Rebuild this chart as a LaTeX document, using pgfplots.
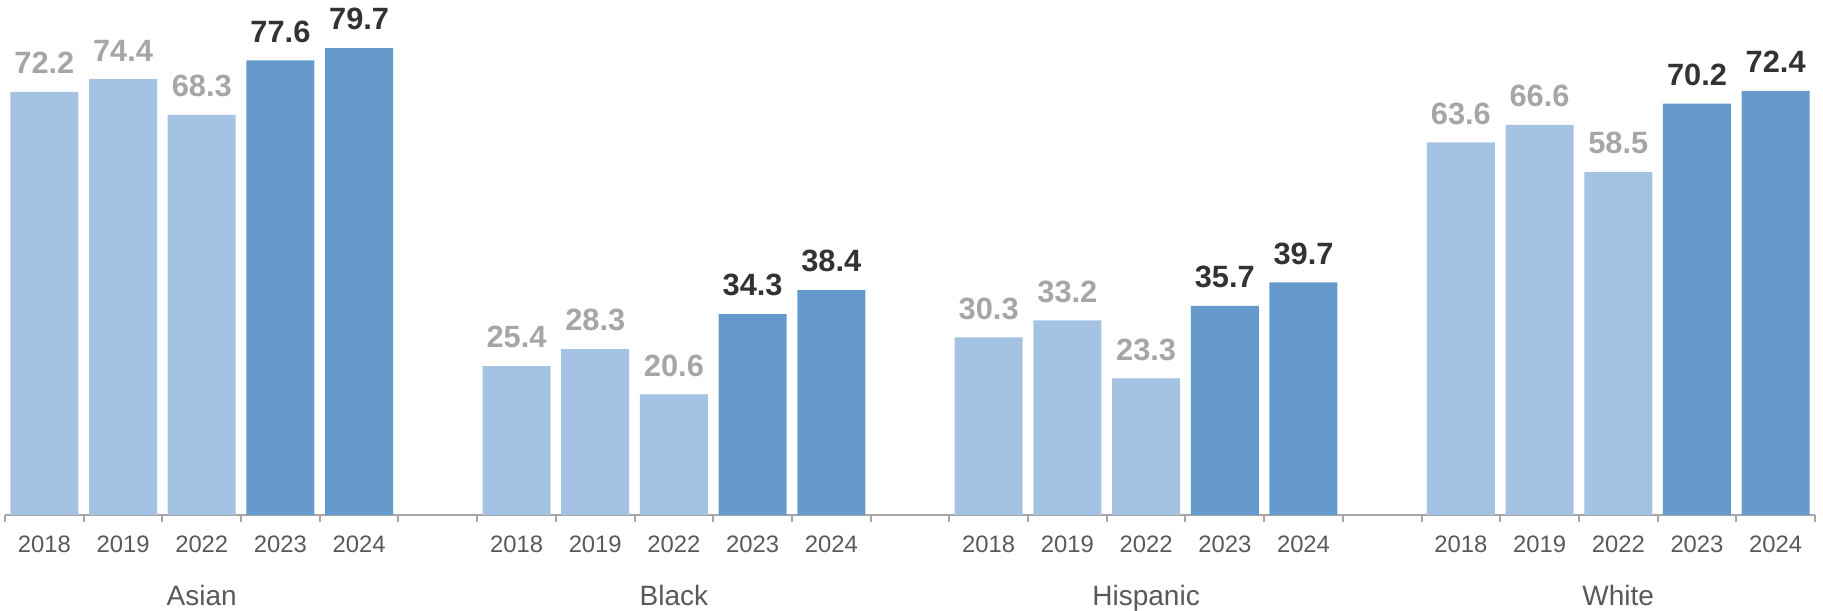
\documentclass[border=0pt]{standalone}
\usepackage{pgfplots}
\pgfplotsset{compat=1.18}
\usepackage{fontspec}
\setmainfont{Liberation Sans}
\definecolor{lightbar}{HTML}{A4C2E2}
\definecolor{darkbar}{HTML}{6699CC}
\definecolor{lightlab}{HTML}{A6A6A6}
\definecolor{darklab}{HTML}{333333}
\definecolor{ticklab}{HTML}{595959}
\definecolor{axisline}{HTML}{A6A6A6}
\begin{document}
\begin{tikzpicture}
\path[use as bounding box] (-2.5pt,-47.5pt) rectangle (909pt,257.5pt);
\begin{axis}[
  at={(0pt,0pt)}, anchor=south west,
  scale only axis, width=905pt, height=257.5pt,
  xmin=0, xmax=23, ymin=0, ymax=87.9,
  axis x line*=bottom, axis y line=none,
  x axis line style={axisline, line width=1pt, -},
  ytick=\empty,
  xtick={0.5,1.5,2.5,3.5,4.5,6.5,7.5,8.5,9.5,10.5,12.5,13.5,14.5,15.5,16.5,18.5,19.5,20.5,21.5,22.5},
  xticklabels={2018,2019,2022,2023,2024,2018,2019,2022,2023,2024,2018,2019,2022,2023,2024,2018,2019,2022,2023,2024},
  major tick length=0pt,
  minor xtick={0,1,2,3,4,5,6,7,8,9,10,11,12,13,14,15,16,17,18,19,20,21,22,23},
  minor tick length=3.5pt, tick align=outside,
  minor tick style={axisline, line width=1pt},
  xticklabel style={font=\fontsize{11.9}{14}\selectfont, text=ticklab, inner sep=0pt, anchor=north, yshift=-10pt},
  ybar, bar width=34pt, bar shift=0pt,
  /pgf/number format/fixed, /pgf/number format/fixed zerofill, /pgf/number format/precision=1,
  /pgf/number format/assume math mode=true,
  clip=false,
]
\addplot[fill=lightbar, draw=none, nodes near coords,
  nodes near coords style={font=\fontsize{15.4}{18}\selectfont\bfseries, text=lightlab, inner sep=0pt, anchor=south, yshift=8.8pt}]
  coordinates {(0.5,72.2) (1.5,74.4) (2.5,68.3)
               (6.5,25.4) (7.5,28.3) (8.5,20.6)
               (12.5,30.3) (13.5,33.2) (14.5,23.3)
               (18.5,63.6) (19.5,66.6) (20.5,58.5)};
\addplot[fill=darkbar, draw=none, nodes near coords,
  nodes near coords style={font=\fontsize{15.4}{18}\selectfont\bfseries, text=darklab, inner sep=0pt, anchor=south, yshift=8.8pt}]
  coordinates {(3.5,77.6) (4.5,79.7)
               (9.5,34.3) (10.5,38.4)
               (15.5,35.7) (16.5,39.7)
               (21.5,70.2) (22.5,72.4)};
\node[font=\fontsize{14}{16}\selectfont, text=ticklab, anchor=base, yshift=-45pt] at (axis cs:2.5,0) {Asian};
\node[font=\fontsize{14}{16}\selectfont, text=ticklab, anchor=base, yshift=-45pt] at (axis cs:8.5,0) {Black};
\node[font=\fontsize{14}{16}\selectfont, text=ticklab, anchor=base, yshift=-45pt] at (axis cs:14.5,0) {Hispanic};
\node[font=\fontsize{14}{16}\selectfont, text=ticklab, anchor=base, yshift=-45pt] at (axis cs:20.5,0) {White};
\end{axis}
\end{tikzpicture}
\end{document}
